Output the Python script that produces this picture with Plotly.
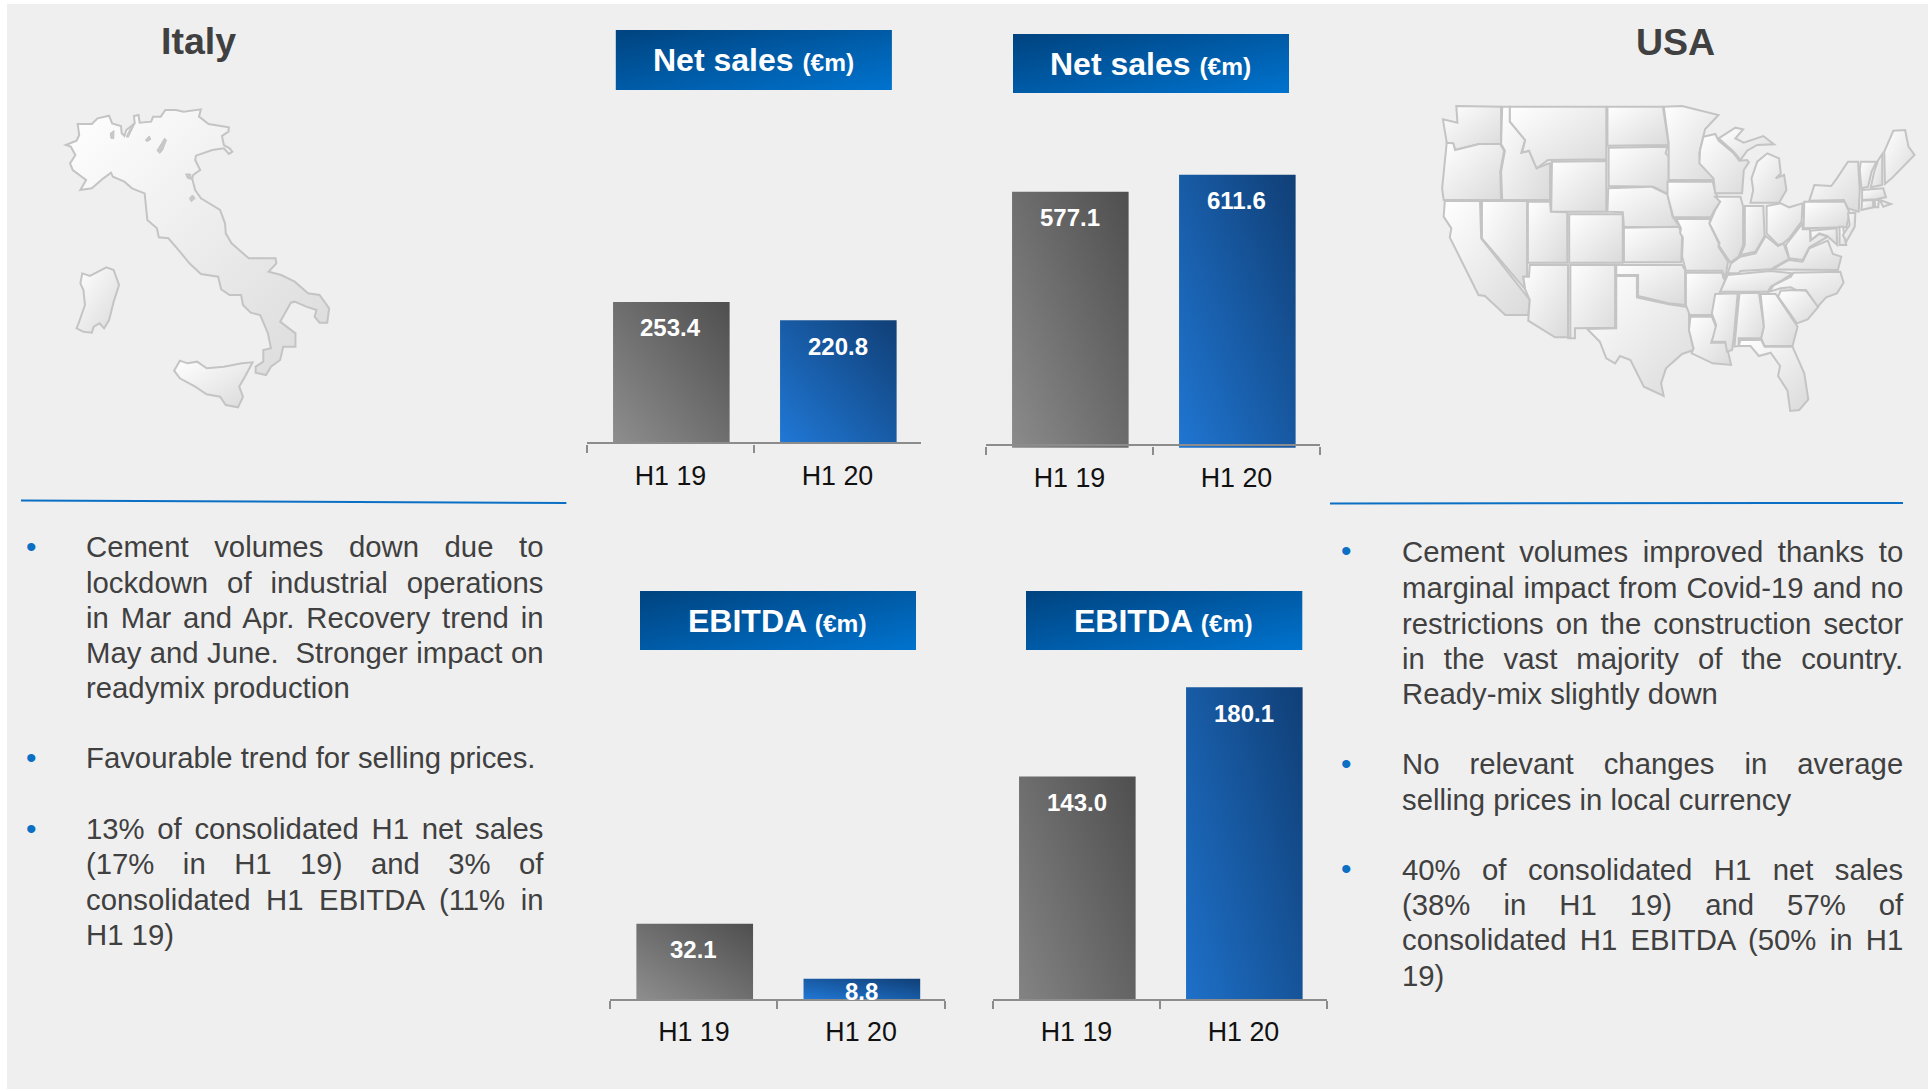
import plotly.graph_objects as go

# ---------- data ----------
categories = ["H1 19", "H1 20"]
italy_net_sales = [253.4, 220.8]
usa_net_sales = [577.1, 611.6]
italy_ebitda = [32.1, 8.8]
usa_ebitda = [143.0, 180.1]
header_net = "Net sales"
header_ebitda = "EBITDA"
header_unit = "(€m)"

W, H = 1930, 1090
fx = lambda x: x / W
fy = lambda y: 1 - y / H

# chart frames: x0, x1 (axis), base pixel, axis pixel, top pixel, y-range low, y-range high
charts = [
    (categories, italy_net_sales, 587, 921, 443.3, 443.3, 100, 0, 615.6, [-26, -26]),
    (categories, usa_net_sales, 986, 1320, 447.7, 445.3, 100, 58, 763.3, [-26, -26]),
    (categories, italy_ebitda, 610.3, 944.6, 999.6, 1000, 660, 0, 143.9, [-26, -13]),
    (categories, usa_ebitda, 993, 1327, 999.6, 1000, 660, 50, 191.5, [-26, -26]),
]

# ---------- text ----------
FONT = "Liberation Sans, Arial, sans-serif"
TXT = "#404040"
left_lines = [
    ("Cement volumes down due to", 546.7, True),
    ("lockdown of industrial operations", 582.0, True),
    ("in Mar and Apr. Recovery trend in", 617.7, True),
    ("May and June.\u00a0 Stronger impact on", 652.7, True),
    ("readymix production", 687.7, False),
    ("Favourable trend for selling prices.", 757.7, False),
    ("13% of consolidated H1 net sales", 828.3, True),
    ("(17% in H1 19) and 3% of", 863.8, True),
    ("consolidated H1 EBITDA (11% in", 899.0, True),
    ("H1 19)", 934.3, False),
]
right_lines = [
    ("Cement volumes improved thanks to", 551.7, True),
    ("marginal impact from Covid-19 and no", 587.3, True),
    ("restrictions on the construction sector", 623.3, True),
    ("in the vast majority of the country.", 658.3, True),
    ("Ready-mix slightly down", 693.3, False),
    ("No relevant changes in average", 763.5, True),
    ("selling prices in local currency", 799.3, False),
    ("40% of consolidated H1 net sales", 869.3, True),
    ("(38% in H1 19) and 57% of", 904.3, True),
    ("consolidated H1 EBITDA (50% in H1", 939.3, True),
    ("19)", 975.0, False),
]
left_bullets_y = [546, 757, 828]
right_bullets_y = [551, 763, 868]
LX0, LX1 = 85, 542.5
RX0, RX1 = 1400.8, 1902

# ---------- map outlines (traced, in the zoom-crop coordinates) ----------
italy_main = [(172,435),(200,422),(207,405),(203,372),(240,372),(255,355),(285,347),(293,370),(316,378),(318,400),(325,408),(330,390),(352,370),(350,348),(362,345),(365,368),(395,365),(400,350),(420,350),(432,330),(460,330),(480,335),(525,328),(520,350),(545,372),(598,382),(597,395),(580,408),(585,435),(600,445),(607,455),(598,462),(585,445),(555,450),(512,467),(510,480),(523,510),(505,525),(502,535),(510,570),(525,595),(575,630),(588,670),(590,700),(605,730),(650,775),(700,775),(720,775),(722,790),(702,815),(735,825),(770,845),(805,880),(835,885),(860,925),(855,968),(835,968),(822,950),(827,930),(800,920),(770,905),(760,908),(732,965),(772,1000),(772,1040),(740,1040),(732,1080),(708,1100),(695,1125),(668,1118),(668,1100),(688,1085),(688,1050),(708,1045),(700,1000),(680,945),(655,938),(635,915),(630,885),(600,885),(578,868),(570,830),(525,822),(495,790),(470,755),(440,715),(415,712),(410,685),(385,660),(378,580),(345,565),(325,545),(295,530),(290,518),(270,535),(240,565),(210,570),(225,540),(190,510),(183,490),(197,465),(185,440)]
italy_sardinia = [(215,820),(235,828),(278,802),(297,810),(311,855),(297,905),(285,960),(272,985),(260,970),(245,980),(240,998),(218,995),(200,985),(207,965),(222,915),(218,870),(210,850)]
italy_sicily = [(470,1082),(490,1090),(515,1085),(540,1105),(585,1100),(632,1090),(660,1087),(640,1130),(625,1160),(635,1190),(622,1222),(590,1215),(575,1190),(540,1183),(510,1160),(470,1135),(455,1112)]
italy_lakes = [
    [(380,420),(390,408),(394,418),(384,425)],
    [(410,452),(430,415),(435,420),(425,450),(418,460)],
    [(290,415),(288,400),(298,392),(297,416)],
    [(330,410),(345,375),(352,372),(335,412)],
    [(485,522),(498,522),(500,538),(490,535)],
    [(495,595),(503,585),(510,595),(500,605)],
]
usa_west = [
    [(330,318),(447,320),(447,432),(390,432),(327,450),(322,430),(305,428),(295,358),(333,368)],
    [(305,428),(322,430),(327,450),(390,432),(445,432),(455,452),(445,515),(447,600),(297,600),(293,565)],
    [(300,603),(392,603),(395,715),(522,900),(518,945),(458,945),(405,888),(388,885),(313,712),(317,685),(297,650)],
    [(397,603),(515,603),(515,830),(505,830),(510,868),(397,715)],
    [(450,320),(470,320),(470,365),(510,420),(500,458),(520,452),(540,505),(568,492),(575,490),(575,600),(450,600),(447,515),(457,452),(447,432)],
    [(470,320),(722,320),(722,478),(570,480),(540,505),(520,452),(502,458),(510,420),(470,365)],
    [(580,485),(722,483),(722,635),(578,635)],
    [(517,605),(575,605),(577,635),(620,637),(620,788),(517,788)],
    [(625,643),(765,643),(765,788),(625,788)],
    [(522,795),(622,795),(622,1012),(588,1012),(518,962),(522,900),(510,868),(505,830),(520,830)],
    [(628,795),(745,795),(745,983),(640,985),(640,1015),(620,1015),(628,1012)],
    [(725,320),(870,320),(885,435),(725,437)],
    [(728,443),(882,440),(877,460),(885,470),(885,583),(845,560),(728,558)],
    [(727,565),(840,560),(882,583),(895,650),(917,685),(768,680),(765,637),(725,635)],
    [(768,683),(912,680),(920,710),(918,787),(768,787)],
    [(748,795),(920,795),(928,810),(928,915),(885,910),(805,888),(805,825),(748,825)],
    [(748,828),(802,828),(802,892),(885,913),(938,922),(938,990),(950,1050),(920,1062),(878,1105),(865,1150),(872,1188),(820,1160),(785,1080),(758,1068),(745,1090),(722,1075),(705,1025),(672,987),(748,985)],
    [(872,320),(920,318),(1015,345),(980,388),(965,460),(967,490),(1002,530),(1002,540),(885,540),(885,470),(885,430)],
    [(882,545),(1000,545),(1008,580),(1020,605),(1005,630),(995,652),(897,652),(882,585)],
    [(905,657),(993,657),(992,672),(1018,735),(1015,740),(1040,785),(1033,835),(1025,812),(930,812),(920,770),(922,712),(915,700),(917,685)],
    [(930,818),(1025,818),(1028,835),(1033,840),(1018,880),(998,945),(940,945),(930,915)],
    [(942,950),(998,950),(1010,985),(996,1028),(1035,1028),(1048,1095),(1000,1090),(945,1060),(950,1045),(938,990)],
]
usa_east = [
    [(40,80),(75,72),(85,92),(130,130),(147,152),(170,150),(175,157),(160,180),(155,250),(75,250),(70,205),(28,160),(30,120)],
    [(85,85),(135,53),(158,58),(135,85),(160,98),(218,78),(250,103),(200,105),(170,122),(150,150),(130,125)],
    [(230,130),(265,145),(270,190),(255,205),(280,195),(287,240),(265,278),(180,278),(188,240),(183,205),(200,155)],
    [(75,260),(150,260),(158,290),(158,405),(145,440),(120,458),(85,405),(88,400),(58,340),(75,300),(90,275)],
    [(163,288),(218,288),(222,378),(195,425),(150,435),(163,405)],
    [(228,288),(270,280),(295,292),(335,280),(332,335),(295,385),(278,400),(262,405),(228,370)],
    [(225,378),(262,408),(278,400),(295,447),(240,478),(150,483),(145,490),(112,490),(122,460),(150,440),(195,430)],
    [(112,495),(145,492),(240,483),(305,490),(275,510),(240,530),(232,545),(90,545)],
    [(75,552),(142,550),(130,685),(125,720),(110,725),(105,695),(65,695),(78,645),(65,610)],
    [(147,550),(205,548),(220,650),(212,685),(145,685),(145,708),(132,710)],
    [(210,552),(255,552),(320,650),(305,708),(222,708),(212,685),(220,650)],
    [(150,690),(145,708),(180,708),(205,738),(240,728),(268,768),(262,798),(290,842),(298,903),(325,900),(352,868),(340,790),(305,710),(222,710),(212,690)],
    [(262,560),(270,542),(310,540),(345,542),(382,590),(350,628),(318,640)],
    [(308,488),(447,485),(457,518),(437,550),(405,562),(380,590),(345,540),(315,540),(300,532),(270,535),(235,545),(250,525),(300,500)],
    [(245,478),(295,450),(335,455),(355,415),(410,392),(425,432),(450,440),(440,480)],
    [(285,405),(335,340),(335,358),(357,358),(358,392),(385,372),(410,380),(355,412),(335,450),(295,445)],
    [(340,275),(460,275),(475,310),(465,352),(338,355)],
    [(355,272),(370,225),(420,228),(437,205),(470,155),(500,155),(505,240),(502,305),(470,295),(458,270)],
    [(358,362),(436,355),(438,405),(408,378),(385,370),(360,390)],
    [(445,350),(455,350),(465,405),(445,405)],
    [(470,310),(492,308),(490,350),(465,395),(455,375),(475,345)],
    [(508,155),(555,155),(540,185),(530,230),(510,235),(505,180)],
    [(560,150),(572,132),(572,225),(538,232),(548,185)],
    [(578,125),(605,62),(640,60),(650,110),(668,135),(600,205),(580,222)],
    [(512,240),(575,235),(583,262),(555,268),(512,270)],
    [(512,272),(545,270),(545,292),(510,300)],
    [(550,270),(562,270),(560,292),(550,292)],
    [(565,270),(598,282),(575,290)],
]


def path(poly, ox, sx, oy, sy):
    pts = [f"{fx(ox + x / sx):.5f},{fy(oy + y / sy):.5f}" for x, y in poly]
    return "M " + " L ".join(pts) + " Z"


shapes = []
# panel
shapes.append(dict(type="rect", xref="paper", yref="paper", x0=fx(7), x1=fx(1928), y0=fy(4), y1=fy(1089),
                   fillcolor="#efefef", line_width=0, layer="below"))
# headers
for x0, x1, y0, y1 in [(615.8, 891.9, 30, 90), (1013, 1289, 34, 93), (640, 916, 591, 650), (1026, 1302.3, 591, 650)]:
    shapes.append(dict(type="rect", name="head", xref="paper", yref="paper", x0=fx(x0), x1=fx(x1), y0=fy(y0), y1=fy(y1),
                       fillcolor="#005ba6", line_width=0, layer="below"))
# dividers
for x0, y0, x1, y1 in [(21, 500.5, 566.4, 503), (1330, 503.5, 1903, 503)]:
    shapes.append(dict(type="line", xref="paper", yref="paper", x0=fx(x0), x1=fx(x1), y0=fy(y0), y1=fy(y1),
                       line=dict(color="#0b70c4", width=2), layer="below"))
# maps
MAPLINE = dict(color="#c4c4c4", width=2)
for poly in [italy_main, italy_sardinia, italy_sicily]:
    shapes.append(dict(type="path", name="map", xref="paper", yref="paper", path=path(poly, 0, 2.613, 0, 3),
                       fillcolor="#eeeeee", line=MAPLINE, layer="below"))
for poly in italy_lakes:
    shapes.append(dict(type="path", xref="paper", yref="paper", path=path(poly, 0, 2.613, 0, 3),
                       fillcolor="#c8c8c8", line=dict(color="#c4c4c4", width=1), layer="below"))
for poly in usa_west:
    shapes.append(dict(type="path", name="map", xref="paper", yref="paper", path=path(poly, 1330, 2.613, 0, 3),
                       fillcolor="#eeeeee", line=MAPLINE, layer="below"))
for poly in usa_east:
    shapes.append(dict(type="path", name="map", xref="paper", yref="paper", path=path(poly, 1690, 2.975, 110, 3),
                       fillcolor="#eeeeee", line=MAPLINE, layer="below"))

annotations = []


def note(text, x, y, size, color=TXT, xanchor="center", bold=False, justify=None):
    a = dict(text=f"<b>{text}</b>" if bold else text, xref="paper", yref="paper", x=fx(x), y=fy(y),
             xanchor=xanchor, yanchor="middle", align="left" if xanchor == "left" else "center",
             showarrow=False, borderpad=0, font=dict(family=FONT, size=size, color=color))
    if justify:
        a["name"] = f"just:{justify}"
    annotations.append(a)


note("Italy", 198.4, 41.5, 37.5, bold=True)
note("USA", 1675.6, 42, 37.5, bold=True)
for label, (cx, cy) in [(header_net, (753.4, 60)), (header_net, (1150.6, 63.5)), (header_ebitda, (777.6, 620.5)), (header_ebitda, (1163.6, 620.5))]:
    note(f"{label} <span style='font-size:24.5px'>{header_unit}</span>", cx, cy, 32, color="#ffffff", bold=True)

BODY = 29.3
for lines, x0, x1, by, bx in [(left_lines, LX0, LX1, left_bullets_y, 31.3), (right_lines, RX0, RX1, right_bullets_y, 1346.8)]:
    for text, y, just in lines:
        note(text, x0, y, BODY, xanchor="left", justify=(x1 - x0) if just else None)
    for y in by:
        note("•", bx, y, 30, color="#0b70c4")

data = []
layout_axes = {}
for i, (cats, vals, x0, x1, base, axis_y, top, lo, hi, shifts) in enumerate(charts, start=1):
    s = "" if i == 1 else str(i)
    data.append(go.Bar(x=cats, y=vals, width=0.698, offset=-0.344, xaxis=f"x{s}", yaxis=f"y{s}",
                       marker=dict(color=["#6e6e6e", "#1a5ea8"], line_width=0), showlegend=False, hoverinfo="skip"))
    layout_axes[f"xaxis{s}"] = dict(
        type="category", domain=[fx(x0), fx(x1)], range=[-0.5, 1.5], anchor="free", position=fy(axis_y),
        showline=True, linecolor="#8c8c8c", linewidth=2.4, ticks="outside", tickson="boundaries", ticklen=8,
        tickwidth=2, tickcolor="#8c8c8c", showgrid=False, zeroline=False, ticklabelstandoff=8,
        tickfont=dict(family=FONT, size=26.8, color="#111111"), fixedrange=True)
    layout_axes[f"yaxis{s}"] = dict(domain=[fy(base), fy(top)], range=[lo, hi], visible=False, anchor=f"x{s}", fixedrange=True)
    for c, v, sh in zip(cats, vals, shifts):
        annotations.append(dict(text=f"<b>{v:.1f}</b>", xref=f"x{s}", yref=f"y{s}", x=c, y=v, yshift=sh, showarrow=False,
                                font=dict(family=FONT, size=24, color="#ffffff")))

fig = go.Figure(data=data)
fig.update_layout(width=W, height=H, margin=dict(l=0, r=0, t=0, b=0), autosize=False, paper_bgcolor="#ffffff",
                  plot_bgcolor="rgba(0,0,0,0)", shapes=shapes, annotations=annotations, bargap=0.3, **layout_axes)

post = r"""
document.body.style.margin='0';
document.body.style.overflow='hidden';
var gd=document.getElementById('{plot_id}');
var NS='http://www.w3.org/2000/svg';
var svg=gd.querySelector('.main-svg');
var defs=document.createElementNS(NS,'defs');
function grad(id,x1,y1,x2,y2,c1,c2){
  var g=document.createElementNS(NS,'linearGradient');
  g.setAttribute('id',id);g.setAttribute('x1',x1);g.setAttribute('y1',y1);g.setAttribute('x2',x2);g.setAttribute('y2',y2);
  [[0,c1],[1,c2]].forEach(function(s){var st=document.createElementNS(NS,'stop');st.setAttribute('offset',s[0]);st.setAttribute('stop-color',s[1]);g.appendChild(st);});
  defs.appendChild(g);
}
grad('gGrey',0,1,1,0,'#8e8e8e','#4f4f4f');
grad('gBlue',0,1,1,0,'#2078d6','#103f76');
grad('gHead',0,0,1,1,'#00437f','#0073ce');
grad('gMap',0,0,1,1,'#ffffff','#dadada');
svg.insertBefore(defs,svg.firstChild);
var names={head:'gHead',map:'gMap'};
gd.querySelectorAll('.shapelayer path').forEach(function(p){
  var i=+p.getAttribute('data-index');var s=gd.layout.shapes[i];
  if(s&&names[s.name]){p.style.fill='url(#'+names[s.name]+')';}
});
gd.querySelectorAll('.barlayer .trace').forEach(function(t){
  t.querySelectorAll('.point path').forEach(function(p,k){p.style.fill='url(#'+(k==0?'gGrey':'gBlue')+')';});
});
gd.querySelectorAll('.annotation').forEach(function(a){
  var i=+a.getAttribute('data-index');var n=gd.layout.annotations[i].name;
  if(n&&n.indexOf('just:')==0){
    var t=a.querySelector('text');var w=parseFloat(n.slice(5));
    var sp=(t.textContent.match(/[ \u00a0]/g)||[]).length;
    var cur=t.getComputedTextLength();
    if(sp){t.style.wordSpacing=((w-cur)/sp)+'px';}
  }
});
"""
fig.write_html("out.html", post_script=post, include_plotlyjs=True, config={"displayModeBar": False})
